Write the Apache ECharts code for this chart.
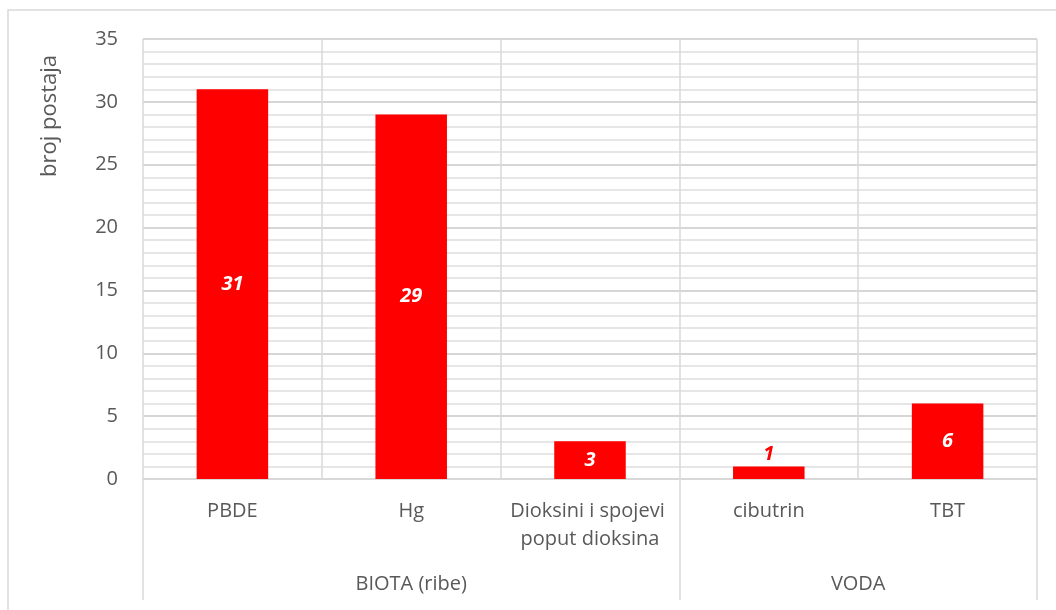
<!DOCTYPE html>
<html>
<head>
<meta charset="utf-8">
<script src="https://cdn.jsdelivr.net/npm/echarts@6/dist/echarts.min.js"></script>
<style>
  html, body { margin: 0; padding: 0; background: #fff; }
  #chart { width: 1056px; height: 610px; }
</style>
</head>
<body>
<div id="chart"></div>
<script>
// substances measured, and number of stations for each
const categories = ['PBDE', 'Hg', 'Dioksini i spojevi poput dioksina', 'cibutrin', 'TBT'];
const stations = [31, 29, 3, 1, 6];
// matrix groups: label and where it sits on a 0..5 scale (by category count)
const groups = ['BIOTA (ribe)', 'VODA'];
const groupCenters = [1.5, 4];
const groupBounds = [0, 3, 5];
const yTicks = [0, 5, 10, 15, 20, 25, 30, 35];

const textColor = '#595959';
const font = 'Open Sans';
const chart = echarts.init(document.getElementById('chart'));

chart.setOption({
  animation: false,
  textStyle: { fontFamily: font },
  grid: { left: 143, right: 19, top: 39, bottom: 131 },
  graphic: [
    {
      type: 'rect',
      shape: { x: 8, y: 10, width: 1100, height: 700 },
      style: { fill: 'none', stroke: '#d9d9d9', lineWidth: 1.5 },
      silent: true
    },
    {
      type: 'text',
      x: 50, y: 116,
      rotation: Math.PI / 2,
      style: {
        text: 'broj postaja', fill: textColor, font: '22px "Open Sans"',
        align: 'center', verticalAlign: 'middle'
      }
    }
  ],
  xAxis: [
    {
      type: 'category',
      data: categories,
      axisLine: { lineStyle: { color: '#d9d9d9', width: 1.5 } },
      axisTick: { show: false },
      splitLine: { show: true, lineStyle: { color: '#d9d9d9', width: 1.5 } },
      axisLabel: {
        color: textColor, fontSize: 20, margin: 18, lineHeight: 28,
        interval: 0, width: 176, overflow: 'break'
      }
    },
    {
      type: 'value',
      min: 0, max: 5,
      position: 'bottom',
      offset: 121,
      axisLine: { show: false },
      splitLine: { show: false },
      axisTick: {
        show: true, inside: true, length: 121, customValues: groupBounds,
        lineStyle: { color: '#d9d9d9', width: 1.5 }
      },
      axisLabel: {
        inside: true, margin: 6, color: textColor, fontSize: 20,
        customValues: groupCenters,
        formatter: v => groups[groupCenters.indexOf(v)]
      }
    }
  ],
  yAxis: {
    type: 'value',
    min: yTicks[0], max: yTicks[yTicks.length - 1], interval: 5,
    axisLine: { show: false },
    axisTick: { show: false },
    axisLabel: { color: textColor, fontSize: 20, margin: 25 },
    splitLine: { lineStyle: { color: '#c8c8c8', width: 1.5 } },
    minorTick: { show: false, splitNumber: 5 },
    minorSplitLine: { show: true, lineStyle: { color: '#dedede', width: 1.5 } }
  },
  series: [{
    type: 'bar',
    barWidth: '40%',
    itemStyle: { color: '#ff0000' },
    label: {
      show: true, position: 'inside', color: '#fff',
      fontSize: 20, fontWeight: 'bold', fontStyle: 'italic'
    },
    data: stations.map(v => v < 2
      ? { value: v, label: { position: 'top', distance: 2, color: '#ff0000' } }
      : v)
  }]
});
</script>
</body>
</html>
